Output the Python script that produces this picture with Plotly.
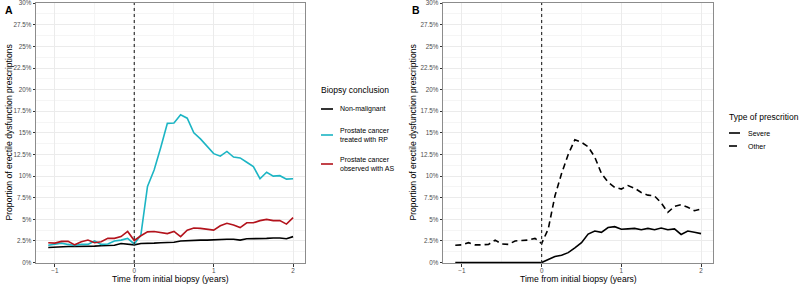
import plotly.graph_objects as go

# months relative to initial biopsy
months = list(range(-13, 25))
years = [m / 12 for m in months]

# Panel A: biopsy conclusion (% of men with ED prescriptions)
non_malignant = [1.75, 1.8, 1.85, 1.85, 1.85, 1.85, 1.9, 1.9, 1.95, 2.0, 2.0, 2.2, 2.15, 2.05,
                 2.2, 2.2, 2.25, 2.3, 2.3, 2.35, 2.5, 2.55, 2.55, 2.6, 2.6, 2.65, 2.65, 2.7,
                 2.7, 2.6, 2.75, 2.75, 2.75, 2.8, 2.85, 2.85, 2.75, 3.0]
rp = [2.0, 2.15, 2.25, 2.1, 1.97, 2.1, 2.1, 2.5, 2.1, 2.15, 2.5, 2.6, 2.8, 2.15,
      3.2, 8.8, 10.7, 13.3, 16.1, 16.15, 17.1, 16.7, 15.0, 14.3, 13.4, 12.6, 12.3, 12.85,
      12.2, 12.1, 11.6, 11.1, 9.7, 10.45, 10.0, 10.05, 9.65, 9.7]
as_obs = [2.3, 2.25, 2.45, 2.45, 2.05, 2.4, 2.6, 2.3, 2.4, 2.8, 2.8, 3.0, 3.6, 2.55,
          3.1, 3.55, 3.6, 3.45, 3.35, 3.6, 3.0, 3.75, 4.0, 3.95, 3.85, 3.75, 4.25, 4.55,
          4.35, 4.05, 4.6, 4.6, 4.85, 5.0, 4.85, 4.85, 4.45, 5.2]

# Panel B: type of prescription
severe = [0, 0, 0, 0, 0, 0, 0, 0, 0, 0, 0, 0, 0, 0,
          0.35, 0.7, 0.85, 1.15, 1.7, 2.3, 3.3, 3.65, 3.5, 4.05, 4.15, 3.85, 3.9, 3.95,
          3.8, 3.95, 3.8, 4.0, 3.8, 3.9, 3.25, 3.65, 3.5, 3.35]
other = [2.0, 2.05, 2.3, 2.05, 2.05, 2.1, 2.6, 2.15, 2.1, 2.5, 2.55, 2.6, 2.8, 2.2,
         3.9, 7.7, 10.3, 12.5, 14.2, 13.9, 13.4, 12.2, 10.3, 9.3, 8.7, 8.5, 8.9, 8.6,
         8.1, 7.8, 7.7, 6.9, 5.8, 6.5, 6.7, 6.4, 6.0, 6.2]

y_ticks = [0, 2.5, 5, 7.5, 10, 12.5, 15, 17.5, 20, 22.5, 25, 27.5, 30]
x_ticks = [-1, 0, 1, 2]

legend_a_title = "Biopsy conclusion"
legend_a_labels = ["Non-malignant", "Prostate cancer<br>treated with RP", "Prostate cancer<br>observed with AS"]
legend_b_title = "Type of prescrition"
legend_b_labels = ["Severe", "Other"]

W, H = 800, 285
ML, MR, MT, MB = 0, 0, 3, 22
PH = H - MT - MB  # plot-area height in px


def px_x(p):
    return (p - ML) / (W - ML - MR)


def px_y(p):
    return (H - MB - p) / PH


COL_BLACK = "#000000"
COL_CYAN = "#1CB5C4"
COL_RED = "#B3131C"
DASH_OTHER = "6px,4px"
LW = 1.6

fig = go.Figure()
fig.add_trace(go.Scatter(x=years, y=non_malignant, mode="lines", name="Non-malignant",
                         line=dict(color=COL_BLACK, width=LW), xaxis="x", yaxis="y"))
fig.add_trace(go.Scatter(x=years, y=rp, mode="lines", name="Prostate cancer treated with RP",
                         line=dict(color=COL_CYAN, width=LW), xaxis="x", yaxis="y"))
fig.add_trace(go.Scatter(x=years, y=as_obs, mode="lines", name="Prostate cancer observed with AS",
                         line=dict(color=COL_RED, width=LW), xaxis="x", yaxis="y"))
fig.add_trace(go.Scatter(x=years, y=severe, mode="lines", name="Severe",
                         line=dict(color=COL_BLACK, width=LW), xaxis="x2", yaxis="y2"))
fig.add_trace(go.Scatter(x=years, y=other, mode="lines", name="Other",
                         line=dict(color=COL_BLACK, width=LW, dash=DASH_OTHER), xaxis="x2", yaxis="y2"))

FONT = "Liberation Sans, Arial, sans-serif"
tickfont = dict(family=FONT, size=6.3, color="#4D4D4D")
common_x = dict(range=[-1.2375, 2.15], tickvals=x_ticks, ticktext=["\u22121", "0", "1", "2"],
                showgrid=True, gridcolor="#EBEBEB", gridwidth=1,
                minor=dict(dtick=0.5, showgrid=True, gridcolor="#F5F5F5", gridwidth=0.6, ticks=""),
                ticks="outside", ticklen=2.5, tickcolor="#333333", tickwidth=1,
                ticklabelstandoff=-1,
                showline=True, mirror=True, linecolor="#8C8C8C", linewidth=1,
                zeroline=False, tickfont=tickfont, fixedrange=True, ticklabeloverflow="allow")
common_y = dict(range=[-0.05, 30.02], tickvals=y_ticks, ticktext=[f"{v:g}%" for v in y_ticks],
                showgrid=True, gridcolor="#EBEBEB", gridwidth=1,
                minor=dict(dtick=1.25, showgrid=True, gridcolor="#F5F5F5", gridwidth=0.6, ticks=""),
                ticks="outside", ticklen=2.5, tickcolor="#333333", tickwidth=1,
                showline=True, mirror=True, linecolor="#8C8C8C", linewidth=1,
                zeroline=False, tickfont=tickfont, fixedrange=True, ticklabeloverflow="allow")

fig.update_layout(
    width=W, height=H,
    margin=dict(l=ML, r=MR, t=MT, b=MB),
    paper_bgcolor="white", plot_bgcolor="white",
    font=dict(family=FONT, color="#000000"),
    xaxis=dict(domain=[px_x(36), px_x(305)], anchor="y", **common_x),
    yaxis=dict(domain=[0, 1], anchor="x", **common_y),
    xaxis2=dict(domain=[px_x(443), px_x(713)], anchor="y2", **common_x),
    yaxis2=dict(domain=[0, 1], anchor="x2", **common_y),
    showlegend=False,
)

# vertical dashed reference line at biopsy time
for xr, yr in (("x", "y"), ("x2", "y2")):
    fig.add_shape(type="line", xref=xr, yref=f"{yr} domain", x0=0, x1=0, y0=0, y1=1,
                  line=dict(color="#333333", width=1.2, dash="3px,3px"), layer="above")

annos = []

# legend A (keys + labels)
legA = [(COL_BLACK, 109), (COL_CYAN, 135), (COL_RED, 164)]
for (col, yy), lab in zip(legA, legend_a_labels):
    fig.add_shape(type="line", xref="paper", yref="paper", x0=px_x(321), x1=px_x(333),
                  y0=px_y(yy), y1=px_y(yy), line=dict(color=col, width=LW))
    annos.append(dict(text=lab, x=px_x(338), y=px_y(yy), xanchor="left", yanchor="middle",
                      align="left", font=dict(size=7, color="#000000")))
annos.append(dict(text=legend_a_title, x=px_x(319), y=px_y(90), xanchor="left", yanchor="middle",
                  font=dict(size=8.5, color="#000000")))

# legend B (keys + labels)
legB = [(False, 133), (True, 146)]
for (dashed, yy), lab in zip(legB, legend_b_labels):
    fig.add_shape(type="line", xref="paper", yref="paper", x0=px_x(729),
                  x1=px_x(737) if dashed else px_x(740),
                  y0=px_y(yy), y1=px_y(yy), line=dict(color=COL_BLACK, width=LW))
    annos.append(dict(text=lab, x=px_x(746), y=px_y(yy), xanchor="left", yanchor="middle",
                      font=dict(size=7, color="#000000")))
annos.append(dict(text=legend_b_title, x=px_x(727), y=px_y(117), xanchor="left", yanchor="middle",
                  font=dict(size=8.5, color="#000000")))

ytitle = "Proportion of erectile dysfunction prescriptions"
xtitle = "Time from initial biopsy (years)"
annos += [
    dict(text="<b>A</b>", x=px_x(3), y=px_y(2), xanchor="left", yanchor="top", font=dict(size=10.5)),
    dict(text="<b>B</b>", x=px_x(410), y=px_y(2), xanchor="left", yanchor="top", font=dict(size=10.5)),
    dict(text=ytitle, x=px_x(8.5), y=px_y(133), textangle=-90, xanchor="center", yanchor="middle",
         font=dict(size=8.6)),
    dict(text=ytitle, x=px_x(412.5), y=px_y(133), textangle=-90, xanchor="center", yanchor="middle",
         font=dict(size=8.6)),
    dict(text=xtitle, x=px_x(170.5), y=px_y(285.5), xanchor="center", yanchor="bottom",
         font=dict(size=8.6)),
    dict(text=xtitle, x=px_x(578), y=px_y(285.5), xanchor="center", yanchor="bottom",
         font=dict(size=8.6)),
]
for a in annos:
    a.update(xref="paper", yref="paper", showarrow=False)
    fig.add_annotation(**a)

fig.write_html("out.html")
